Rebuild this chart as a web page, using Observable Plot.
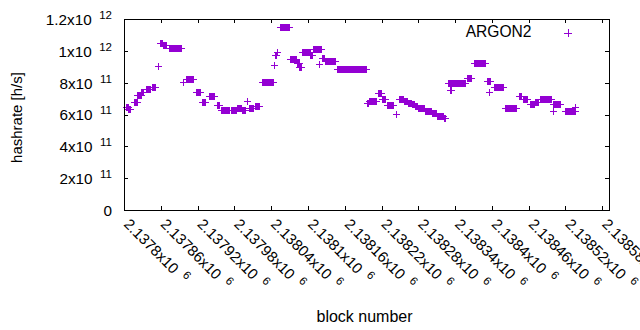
<!DOCTYPE html>
<html><head><meta charset="utf-8">
<script src="https://cdn.jsdelivr.net/npm/d3@7"></script>
<script src="https://cdn.jsdelivr.net/npm/@observablehq/plot@0.6"></script>
<style>
html,body{margin:0;padding:0;background:#fff;overflow:hidden;}
svg line, svg rect, svg path{shape-rendering:crispEdges;}
</style></head><body><div id="chart"></div>
<script>
const seriesName = "ARGON2";
const xLabel = "block number";
const yLabel = "hashrate [h/s]";

// runs of consecutive blocks sharing one hashrate value (one point per block)
const runStart = [
  2137804, 2137807, 2137816, 2137822, 2137828, 2137836, 2137845, 2137855, 2137859, 2137863,
  2137873, 2137897, 2137901, 2137917, 2137927, 2137939, 2137952, 2137958, 2137974, 2137984,
  2137992, 2138001, 2138004, 2138014, 2138025, 2138045, 2138047, 2138049, 2138054, 2138071,
  2138082, 2138086, 2138090, 2138104, 2138108, 2138118, 2138123, 2138128, 2138147, 2138197,
  2138200, 2138214, 2138221, 2138229, 2138244, 2138248, 2138257, 2138263, 2138270, 2138275,
  2138279, 2138291, 2138302, 2138310, 2138322, 2138328, 2138332, 2138337, 2138359, 2138371,
  2138392, 2138395, 2138403, 2138421, 2138444, 2138451, 2138462, 2138470, 2138478, 2138499,
  2138500, 2138519, 2138536
];
const runEnd = [
  2137806, 2137809, 2137821, 2137827, 2137831, 2137842, 2137851, 2137855, 2137862, 2137868,
  2137893, 2137897, 2137913, 2137924, 2137932, 2137947, 2137955, 2137971, 2137983, 2137991,
  2137997, 2138001, 2138010, 2138020, 2138043, 2138045, 2138048, 2138050, 2138069, 2138081,
  2138085, 2138089, 2138103, 2138106, 2138121, 2138118, 2138126, 2138144, 2138195, 2138198,
  2138211, 2138219, 2138226, 2138239, 2138244, 2138255, 2138261, 2138268, 2138273, 2138278,
  2138289, 2138301, 2138309, 2138320, 2138323, 2138335, 2138334, 2138356, 2138366, 2138389,
  2138397, 2138395, 2138418, 2138439, 2138447, 2138457, 2138469, 2138475, 2138496, 2138499,
  2138511, 2138535, 2138536
];
const runRate = [
  6.47e11, 6.35e11, 6.79e11, 7.23e11, 7.41e11, 7.60e11, 7.73e11, 9.05e11, 1.049e12, 1.037e12,
  1.015e12, 8.04e11, 8.21e11, 7.41e11, 6.79e11, 7.16e11, 6.60e11, 6.31e11, 6.28e11, 6.38e11,
  6.31e11, 6.82e11, 6.38e11, 6.53e11, 8.02e11, 9.11e11, 9.75e11, 9.90e11, 1.148e12, 9.47e11,
  9.25e11, 9.00e11, 9.90e11, 9.71e11, 1.012e12, 9.15e11, 9.55e11, 9.34e11, 8.84e11, 6.70e11,
  6.85e11, 7.37e11, 6.97e11, 6.60e11, 6.01e11, 6.97e11, 6.85e11, 6.74e11, 6.64e11, 6.53e11,
  6.39e11, 6.22e11, 6.09e11, 5.91e11, 5.81e11, 7.96e11, 7.54e11, 7.96e11, 8.29e11, 9.25e11,
  8.10e11, 7.43e11, 7.71e11, 6.43e11, 7.16e11, 6.96e11, 6.66e11, 6.80e11, 6.96e11, 6.24e11,
  6.66e11, 6.24e11, 6.45e11
];

const xDomain = [2137800, 2138591];
const yDomain = [0, 1.2e12];
const xTickValues = [2137800, 2137860, 2137920, 2137980, 2138040, 2138100, 2138160,
                     2138220, 2138280, 2138340, 2138400, 2138460, 2138520, 2138580];
const xTickLabels = ["2.1378x10^6", "2.13786x10^6", "2.13792x10^6", "2.13798x10^6",
  "2.13804x10^6", "2.1381x10^6", "2.13816x10^6", "2.13822x10^6", "2.13828x10^6",
  "2.13834x10^6", "2.1384x10^6", "2.13846x10^6", "2.13852x10^6", "2.13858x10^6"];
const yTickValues = [0, 2e11, 4e11, 6e11, 8e11, 1e12, 1.2e12];
const yTickLabels = ["0", "2x10^11", "4x10^11", "6x10^11", "8x10^11", "1x10^12", "1.2x10^12"];

const points = [];
runStart.forEach((s, i) => {
  for (let b = s; b <= runEnd[i]; b++) points.push({block: b, rate: runRate[i]});
});

const W = 640, H = 330, mL = 124, mR = 31, mT = 19, mB = 120;
const fw = W - mL - mR, fh = H - mT - mB;
const purple = "#9400d3";
const crossR = 2.4;

const chart = Plot.plot({
  width: W, height: H,
  marginLeft: mL, marginRight: mR, marginTop: mT, marginBottom: mB,
  style: {fontFamily: "'Liberation Sans', Arial, sans-serif", fontSize: "15px", background: "#fff", color: "#000", overflow: "hidden"},
  x: {domain: xDomain, axis: null},
  y: {domain: yDomain, axis: null},
  marks: [
    Plot.dot(points, {x: "block", y: "rate", symbol: "plus", r: crossR, stroke: purple, strokeWidth: 1}),
    Plot.tickY(yTickValues, {y: d => d, insetRight: fw - 4, stroke: "#000"}),
    Plot.tickY(yTickValues, {y: d => d, insetLeft: fw - 4, stroke: "#000"}),
    Plot.tickX(xTickValues, {x: d => d, insetTop: fh - 4, stroke: "#000"}),
    Plot.tickX(xTickValues, {x: d => d, insetBottom: fh - 4, stroke: "#000"}),
    Plot.frame({stroke: "#000"}),
    Plot.text(yTickLabels, {y: (d, i) => yTickValues[i], text: d => d, frameAnchor: "left",
      textAnchor: "end", lineAnchor: "middle", dx: -12.5, dy: 0.5, fill: "#000", fontSize: 15.3}),
    Plot.text(xTickLabels, {x: (d, i) => xTickValues[i], text: d => d, frameAnchor: "bottom",
      rotate: 45, textAnchor: "start", lineAnchor: "top", dx: 6, dy: 7, fill: "#000", fontSize: 15}),
    Plot.text([yLabel], {text: d => d, frameAnchor: "left", rotate: -90, textAnchor: "middle",
      lineAnchor: "middle", dx: -107.8, dy: 2.5, fill: "#000", fontSize: 15}),
    Plot.text([xLabel], {text: d => d, frameAnchor: "bottom", textAnchor: "middle",
      lineAnchor: "middle", dx: -2.5, dy: 106.2, fill: "#000", fontSize: 16}),
    Plot.text([seriesName], {text: d => d, frameAnchor: "top-right", textAnchor: "end",
      lineAnchor: "middle", dx: -78, dy: 12.9, fill: "#000", fontSize: 15.6}),
    Plot.dot([seriesName], {frameAnchor: "top-right", symbol: "plus", r: crossR, stroke: purple,
      strokeWidth: 1, dx: -41.5, dy: 13.5})
  ]
});

// render "^" exponents as raised smaller text, like the original
const NS = "http://www.w3.org/2000/svg";
chart.querySelectorAll("text").forEach(t => {
  const s = t.textContent;
  const k = s.indexOf("^");
  if (k < 0) return;
  while (t.firstChild) t.removeChild(t.firstChild);
  const a = document.createElementNS(NS, "tspan");
  a.textContent = s.slice(0, k);
  const b = document.createElementNS(NS, "tspan");
  b.textContent = s.slice(k + 1);
  b.setAttribute("dx", "7.5");
  b.setAttribute("dy", "-6");
  b.setAttribute("font-size", "11.5");
  t.append(a, b);
});

document.getElementById("chart").append(chart);
</script></body></html>
